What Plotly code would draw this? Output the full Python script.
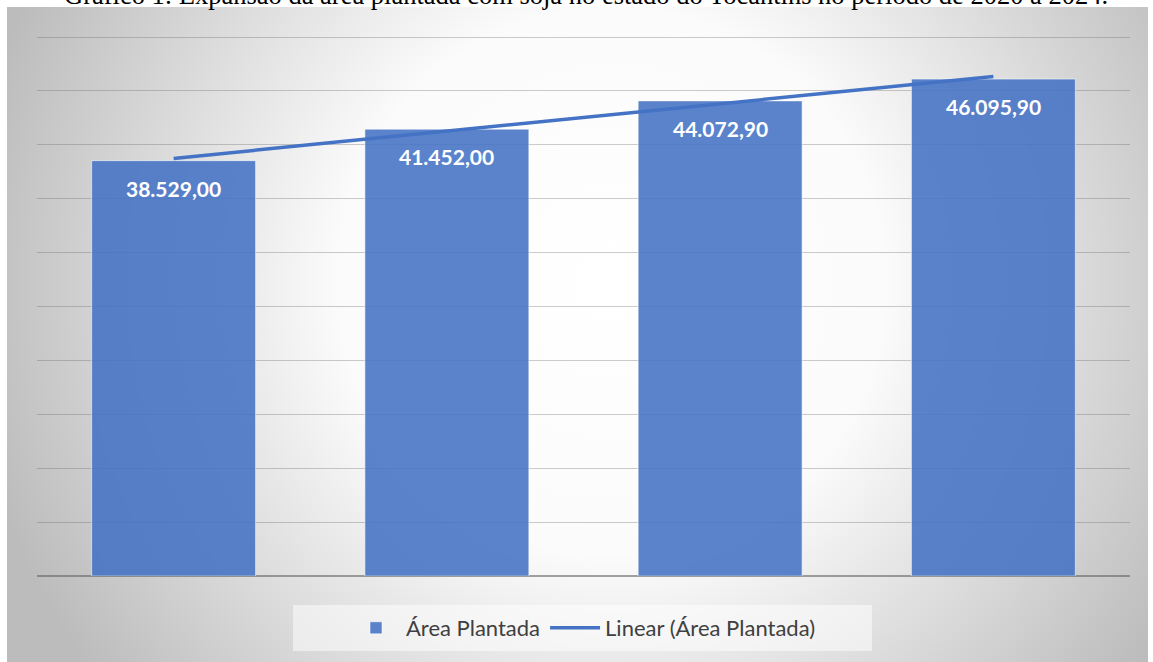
import base64
import numpy as np
import plotly.graph_objects as go

# ---- data ----
categories = ["2020/21", "2021/22", "2022/23", "2023/24"]
area_plantada = [38529.00, 41452.00, 44072.90, 46095.90]
series_name = "Área Plantada"
trend_name = "Linear (Área Plantada)"
title_text = ("Gráfico 1: Expansão da área plantada com soja no estado do "
              "Tocantins no período de 2020 a 2024.")

def fmt_br(v):
    s = f"{v:,.2f}"
    return s.replace(",", "X").replace(".", ",").replace("X", ".")

# linear trend (least squares on category index)
idx = np.arange(len(area_plantada))
slope, intercept = np.polyfit(idx, area_plantada, 1)
trend = list(intercept + slope * idx)

W, H = 1153, 662
ML, MR, MT, MB = 37, 23, 33, 86
PW, PH = W - ML - MR, H - MT - MB
Y_MAX = 50000 * PH / 539.0   # keep 0 at y=576 px and 50000 at y=37 px

def px_x(px):
    return (px - ML) / PW

def px_y(py):
    return (H - MB - py) / PH

# radial gradient background as an SVG image
bw, bh = 1141, 655
svg = f'''<svg xmlns="http://www.w3.org/2000/svg" width="{bw}" height="{bh}" viewBox="0 0 {bw} {bh}" preserveAspectRatio="none">
<defs><radialGradient id="g" gradientUnits="userSpaceOnUse" cx="{bw*0.53}" cy="{bh*0.42}" r="650">
<stop offset="0" stop-color="#ffffff"/><stop offset="0.42" stop-color="#fbfbfb"/>
<stop offset="1" stop-color="#bcbcbc"/></radialGradient></defs>
<rect x="0" y="0" width="{bw}" height="{bh}" fill="url(#g)"/></svg>'''
bg_src = "data:image/svg+xml;base64," + base64.b64encode(svg.encode()).decode()

fig = go.Figure()
fig.add_trace(go.Bar(
    x=categories, y=area_plantada, name=series_name,
    marker=dict(color="rgba(68,114,196,0.88)",
                line=dict(color="rgba(255,255,255,0.55)", width=1)),
    width=0.6, hoverinfo="y",
))
fig.add_trace(go.Scatter(
    x=categories, y=trend, name=trend_name, mode="lines",
    line=dict(color="#4472C4", width=3.5),
))

for c, v in zip(categories, area_plantada):
    fig.add_annotation(x=c, y=v, xref="x", yref="y", text=f"<b>{fmt_br(v)}</b>",
                       showarrow=False, yanchor="top", yshift=-13,
                       font=dict(family="Lato", size=21, color="white"))

fig.add_annotation(x=px_x(586), y=px_y(12), xref="paper", yref="paper",
                   text=title_text, showarrow=False, yanchor="bottom",
                   font=dict(family="Liberation Serif", size=26.5, color="black"))

fig.add_shape(type="rect", xref="paper", yref="paper",
              x0=px_x(293), x1=px_x(872), y0=px_y(651), y1=px_y(605),
              fillcolor="rgba(255,255,255,0.5)", line=dict(width=0), layer="below")

fig.update_layout(
    width=W, height=H,
    margin=dict(l=ML, r=MR, t=MT, b=MB),
    paper_bgcolor="white", plot_bgcolor="rgba(0,0,0,0)",
    images=[dict(source=bg_src, xref="paper", yref="paper",
                 x=px_x(7), y=px_y(7), sizex=bw / PW, sizey=bh / PH,
                 xanchor="left", yanchor="top", sizing="stretch", layer="below")],
    bargap=0.4,
    showlegend=True,
    legend=dict(orientation="h", x=0.5, xanchor="center", y=px_y(628), yanchor="middle",
                bgcolor="rgba(0,0,0,0)", font=dict(family="Lato", size=22, color="#404040"),
                itemwidth=50),
    xaxis=dict(showticklabels=False, showgrid=False, zeroline=False, showline=False,
               ticks=""),
    yaxis=dict(range=[0, Y_MAX], tickvals=list(range(5000, 50001, 5000)),
               showticklabels=False, ticks="",
               showgrid=True, gridcolor="rgba(100,100,100,0.33)", gridwidth=1.3,
               zeroline=True, zerolinecolor="rgba(100,100,100,0.6)", zerolinewidth=1.5,
               showline=False),
)

fig.write_html("out.html", config={"displayModeBar": False},
               post_script="document.body.style.margin='0';")
